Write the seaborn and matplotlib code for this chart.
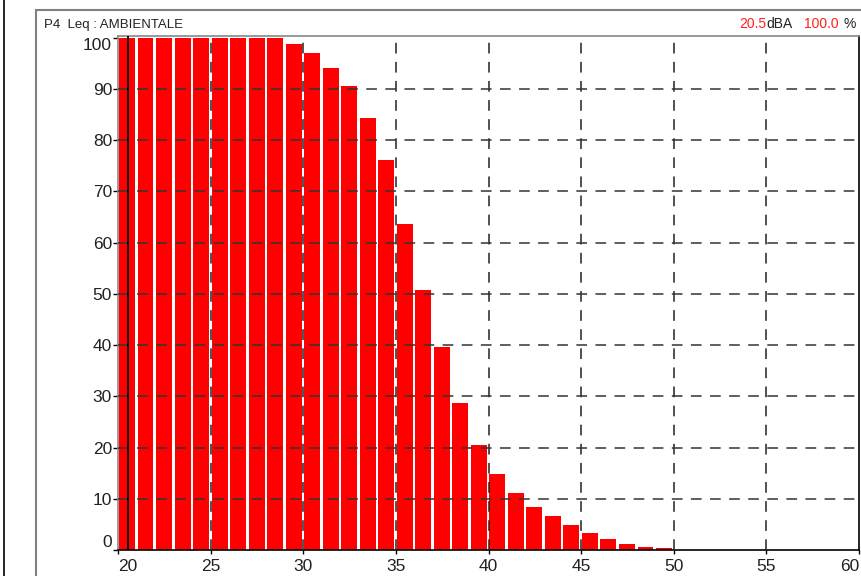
import matplotlib
matplotlib.use("Agg")
import matplotlib.pyplot as plt
import seaborn as sns
import numpy as np
import pandas as pd
from matplotlib.patches import Rectangle
from matplotlib.lines import Line2D

# ---- data ----
levels = list(range(20, 50))  # dBA bin start
percent = [100, 100, 100, 100, 100, 100, 100, 100, 100, 98.8,
           97.0, 94.0, 90.5, 84.3, 76.1, 63.6, 50.7, 39.6, 28.7, 20.5,
           14.9, 11.2, 8.4, 6.6, 4.9, 3.3, 2.2, 1.2, 0.5, 0.35]
x_ticks = [20, 25, 30, 35, 40, 45, 50, 55, 60]
y_ticks = [0, 10, 20, 30, 40, 50, 60, 70, 80, 90, 100]
title_left = "P4  Leq : AMBIENTALE"
cursor_level = 20.5
cursor_pct = "100.0"

sns.set_theme(style="white")
plt.rcParams['font.family'] = ['Liberation Sans', 'DejaVu Sans']

W, H = 861, 576
fig = plt.figure(figsize=(W / 100, H / 100), dpi=100)

def fx(px):
    return px / W

def fy(py):
    return 1 - py / H

left, right, top, bottom = 118.3, 859.0, 36.0, 550.0
ax = fig.add_axes([fx(left), fy(bottom), fx(right) - fx(left), fy(top) - fy(bottom)])

df = pd.DataFrame({"level": [l + 0.47 for l in levels], "pct": percent})
sns.barplot(data=df, x="level", y="pct", native_scale=True, width=0.86,
            color="#FF0000", saturation=1, edgecolor="none", ax=ax, zorder=2)

ax.set_xlim(20, 60)
ax.set_ylim(0, 100.3)
ax.set_xlabel("")
ax.set_ylabel("")
ax.set_xticks(x_ticks)
ax.set_yticks(y_ticks)
ax.set_xticklabels([str(t) for t in x_ticks], fontsize=12.5, color="#222222")
ax.set_yticklabels([str(t) for t in y_ticks], fontsize=12.5, color="#222222")
xl = ax.get_xticklabels()
xl[0].set_ha("left")
xl[-1].set_ha("right")
yl = ax.get_yticklabels()
yl[0].set_va("bottom")
yl[-1].set_va("top")

ax.tick_params(axis="x", direction="out", length=3, width=1, pad=3.5, color="black", bottom=True)
ax.tick_params(axis="y", direction="out", length=3.5, width=1, pad=1, color="black", left=True)

# dashed grid over bars
for xv in x_ticks[1:-1]:
    ax.axvline(xv, color="#222222", lw=1.1, ls=(0, (7, 5.5)), zorder=3)
for yv in y_ticks[1:-1]:
    ax.axhline(yv, color="#333333", lw=1.1, ls=(0, (7, 5.5)), zorder=3)

# cursor line
ax.axvline(cursor_level, color="black", lw=1.3, zorder=4)

for s in ["bottom", "right"]:
    ax.spines[s].set_color("black")
    ax.spines[s].set_linewidth(1.2)
for s in ["top", "left"]:
    ax.spines[s].set_color("#888888")
    ax.spines[s].set_linewidth(1.2)
ax.set_facecolor("white")

# outer frame and left line
fig.patches.append(Rectangle((fx(36), fy(590)), fx(900) - fx(36), fy(10) - fy(590),
                             transform=fig.transFigure, fill=False,
                             edgecolor="#808080", lw=1.5, zorder=0))
fig.lines.append(Line2D([fx(4), fx(4)], [0, 1], transform=fig.transFigure,
                        color="black", lw=1.2))

# header texts
fig.text(fx(44), fy(28), title_left, fontsize=9.5, color="#222222", ha="left", va="baseline")
fig.text(fx(739), fy(28), f"{cursor_level}", fontsize=10, color="#FF2020", ha="left", va="baseline")
fig.text(fx(766), fy(28), "dBA", fontsize=10, color="#222222", ha="left", va="baseline")
fig.text(fx(804), fy(28), cursor_pct, fontsize=10, color="#FF2020", ha="left", va="baseline")
fig.text(fx(843), fy(28), "%", fontsize=10, color="#222222", ha="left", va="baseline")

fig.savefig("out.png", dpi=100)
